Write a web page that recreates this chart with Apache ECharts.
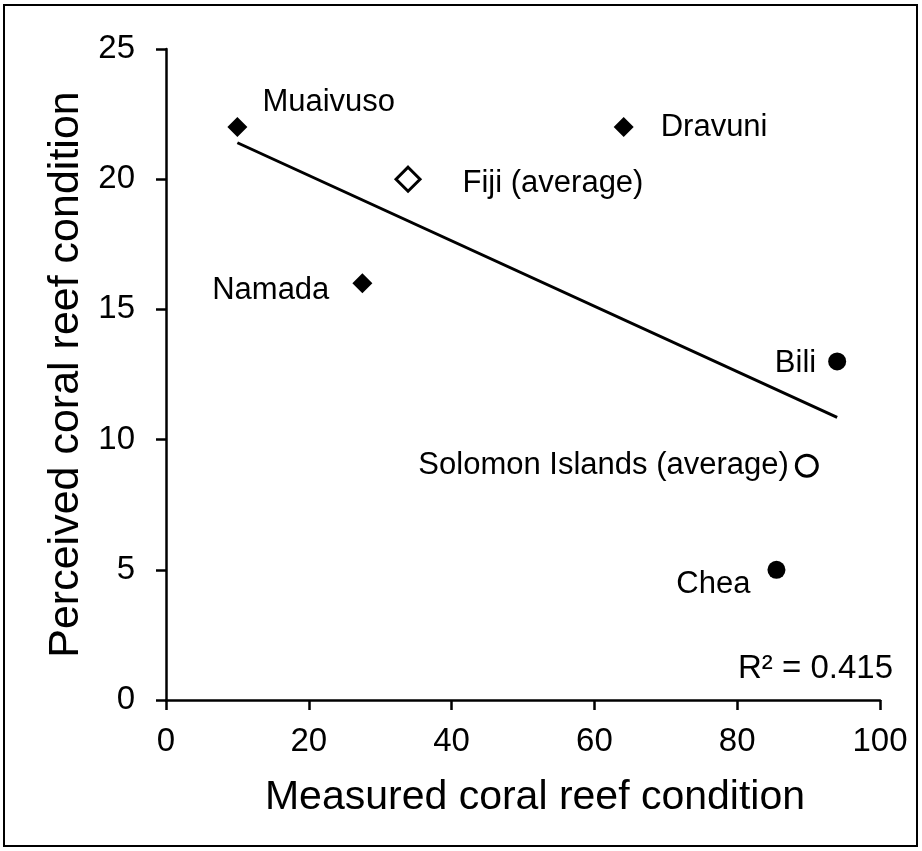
<!DOCTYPE html>
<html>
<head>
<meta charset="utf-8">
<script src="https://cdn.jsdelivr.net/npm/echarts@6/dist/echarts.min.js"></script>
<style>
html,body{margin:0;padding:0;background:#fff;}
#chart{width:922px;height:851px;}
</style>
</head>
<body>
<div id="chart"></div>
<script>
// Site names
var siteNames = ['Muaivuso', 'Dravuni', 'Namada', 'Bili', 'Chea'];
// Fiji sites (filled diamonds): [measured, perceived]
var fijiSites = [[10, 22], [64.1, 22], [27.5, 16]];
// Solomon Islands sites (filled circles)
var solomonSites = [[94, 13], [85.5, 5]];
// Averages (hollow markers)
var fijiAverage = [[33.9, 20]];
var solomonAverage = [[89.75, 9]];
// Linear trend line end points
var trendLine = [[10, 21.4], [94, 10.85]];
var rSquaredText = 'R\u00B2 = 0.415';
var xTicks = [0, 20, 40, 60, 80, 100];
var yTicks = [0, 5, 10, 15, 20, 25];

var FONT = '"Liberation Sans", Arial, sans-serif';
var labelFont = {color: '#000', fontSize: 31, fontFamily: FONT};

function lab(pos, dist, off) {
  return Object.assign({show: true, position: pos, distance: dist, offset: off}, labelFont);
}
var fijiLabelCfg = [lab('right', 15, [0, -25]), lab('right', 27, [0, 0]), lab('left', 23, [0, 7])];
var solLabelCfg = [lab('left', 12, [0, 2]), lab('left', 17, [0, 15])];

var chart = echarts.init(document.getElementById('chart'));
chart.setOption({
  animation: false,
  backgroundColor: '#fff',
  grid: {left: 166, right: 42, top: 49, bottom: 151, containLabel: false},
  xAxis: {
    type: 'value', min: xTicks[0], max: xTicks[xTicks.length - 1], interval: 20,
    name: 'Measured coral reef condition', nameLocation: 'middle', nameGap: 77,
    nameTextStyle: {color: '#000', fontSize: 41, fontFamily: FONT, padding: [0, 0, 0, 24]},
    axisLine: {show: true, onZero: false, lineStyle: {color: '#000', width: 2.5}},
    axisTick: {show: true, inside: false, length: 10, lineStyle: {color: '#000', width: 2.5}},
    axisLabel: {color: '#000', fontSize: 33, fontFamily: FONT, margin: 25},
    splitLine: {show: false}
  },
  yAxis: {
    type: 'value', min: yTicks[0], max: yTicks[yTicks.length - 1], interval: 5,
    name: 'Perceived coral reef condition', nameLocation: 'middle', nameGap: 70,
    nameTextStyle: {color: '#000', fontSize: 43, fontFamily: FONT},
    axisLine: {show: true, onZero: false, lineStyle: {color: '#000', width: 2.5}},
    axisTick: {show: true, inside: false, length: 10, lineStyle: {color: '#000', width: 2.5}},
    axisLabel: {color: '#000', fontSize: 33, fontFamily: FONT, margin: 31},
    splitLine: {show: false}
  },
  graphic: [
    {type: 'rect', shape: {x: 4, y: 5, width: 913, height: 841}, style: {fill: 'none', stroke: '#000', lineWidth: 2}, z: -1},
    {type: 'text', right: 29, top: 652, style: {text: rSquaredText, fill: '#000', fontSize: 33, fontFamily: FONT}}
  ],
  series: [
    {
      type: 'line', data: trendLine, symbol: 'none', silent: true,
      lineStyle: {color: '#000', width: 3}, z: 1
    },
    {
      type: 'scatter', symbol: 'diamond', symbolSize: 20,
      itemStyle: {color: '#000', opacity: 1},
      data: fijiSites.map(function (p, i) { return {value: p, name: siteNames[i], label: Object.assign({formatter: siteNames[i]}, fijiLabelCfg[i])}; }),
      z: 3
    },
    {
      type: 'scatter', symbol: 'circle', symbolSize: 18,
      itemStyle: {color: '#000', opacity: 1},
      data: solomonSites.map(function (p, i) { return {value: p, name: siteNames[i + 3], label: Object.assign({formatter: siteNames[i + 3]}, solLabelCfg[i])}; }),
      z: 3
    },
    {
      type: 'scatter', symbol: 'diamond', symbolSize: 24,
      itemStyle: {color: '#fff', borderColor: '#000', borderWidth: 3, opacity: 1},
      data: fijiAverage.map(function (p) { return {value: p, label: Object.assign({formatter: 'Fiji (average)'}, lab('right', 41, [0, 4]))}; }),
      z: 3
    },
    {
      type: 'scatter', symbol: 'circle', symbolSize: 21,
      itemStyle: {color: '#fff', borderColor: '#000', borderWidth: 3, opacity: 1},
      data: solomonAverage.map(function (p) { return {value: p, label: Object.assign({formatter: 'Solomon Islands (average)'}, lab('left', 6, [0, 0]))}; }),
      z: 3
    }
  ]
});
</script>
</body>
</html>
